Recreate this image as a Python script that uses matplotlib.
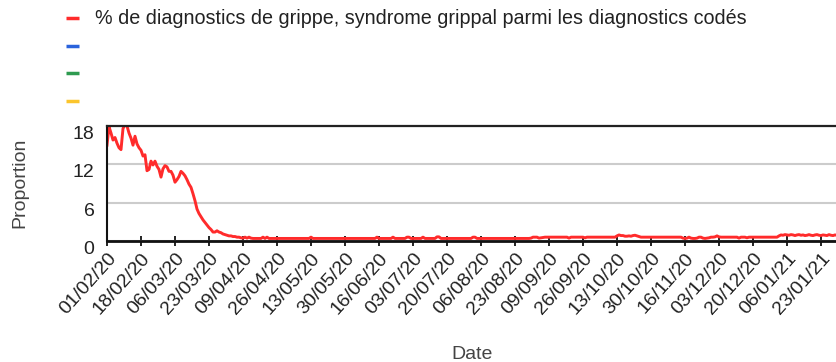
import pandas as pd
import matplotlib
matplotlib.use("Agg")
import matplotlib.pyplot as plt
import matplotlib.dates as mdates
from matplotlib.lines import Line2D

plt.rcParams["font.family"] = ["Liberation Sans", "DejaVu Sans"]

# Daily share (%) of flu / flu-like diagnoses, Feb 2020 -> Jan 2021
feb = [15.0, 17.9, 16.9, 15.8, 16.2, 15.3, 14.6, 14.3, 17.6, 18.2,
       18.0, 16.9, 16.1, 15.0, 16.4, 15.2, 14.6, 14.2, 13.3, 13.5,
       11.0, 11.2, 12.5, 11.9, 12.5, 11.7, 11.2, 10.0, 11.3]
mar = [11.8, 11.6, 10.9, 10.9, 10.3, 9.2, 9.6, 10.1, 10.9, 10.6,
       10.2, 9.6, 8.9, 8.4, 7.4, 6.3, 5.0, 4.3, 3.8, 3.3,
       2.9, 2.5, 2.1, 1.8, 1.4, 1.4, 1.6, 1.4, 1.3, 1.1,
       1.0]
apr = [0.9, 0.8, 0.8, 0.7, 0.7, 0.6, 0.6, 0.5, 0.45, 0.6,
       0.45, 0.6, 0.45, 0.4, 0.4, 0.4, 0.4, 0.4, 0.6, 0.4,
       0.6, 0.4, 0.4, 0.4, 0.4, 0.4, 0.4, 0.4, 0.4, 0.4]
may = [0.4, 0.4, 0.4, 0.4, 0.4, 0.4, 0.4, 0.4, 0.4, 0.4,
       0.4, 0.4, 0.6, 0.4, 0.4, 0.4, 0.4, 0.4, 0.4, 0.4,
       0.4, 0.4, 0.4, 0.4, 0.4, 0.4, 0.4, 0.4, 0.4, 0.4,
       0.4]
jun = [0.4, 0.4, 0.4, 0.4, 0.4, 0.4, 0.4, 0.4, 0.4, 0.4,
       0.4, 0.4, 0.4, 0.4, 0.6, 0.4, 0.4, 0.4, 0.4, 0.4,
       0.4, 0.4, 0.6, 0.4, 0.4, 0.4, 0.4, 0.4, 0.4, 0.6]
jul = [0.6, 0.4, 0.4, 0.4, 0.4, 0.4, 0.4, 0.6, 0.4, 0.4,
       0.4, 0.4, 0.4, 0.4, 0.65, 0.65, 0.4, 0.4, 0.4, 0.4,
       0.4, 0.4, 0.4, 0.4, 0.4, 0.4, 0.4, 0.4, 0.4, 0.4,
       0.4]
aug = [0.4, 0.6, 0.6, 0.4, 0.4, 0.4, 0.4, 0.4, 0.4, 0.4,
       0.4, 0.4, 0.4, 0.4, 0.4, 0.4, 0.4, 0.4, 0.4, 0.4,
       0.4, 0.4, 0.4, 0.4, 0.4, 0.4, 0.4, 0.4, 0.4, 0.4,
       0.45]
sep = [0.6, 0.6, 0.6, 0.45, 0.5, 0.55, 0.6, 0.6, 0.6, 0.6,
       0.6, 0.6, 0.6, 0.6, 0.6, 0.6, 0.6, 0.6, 0.45, 0.6,
       0.6, 0.6, 0.6, 0.6, 0.6, 0.6, 0.5, 0.6, 0.6, 0.6]
oct_ = [0.6, 0.6, 0.6, 0.6, 0.6, 0.6, 0.6, 0.6, 0.6, 0.6,
        0.6, 0.6, 0.8, 0.95, 0.85, 0.85, 0.75, 0.75, 0.8, 0.75,
        0.85, 0.9, 0.8, 0.7, 0.6, 0.6, 0.6, 0.6, 0.6, 0.6,
        0.6]
nov = [0.6, 0.6, 0.6, 0.6, 0.6, 0.6, 0.6, 0.6, 0.6, 0.6,
       0.6, 0.6, 0.6, 0.6, 0.45, 0.4, 0.45, 0.6, 0.45, 0.4,
       0.4, 0.45, 0.6, 0.6, 0.45, 0.4, 0.45, 0.5, 0.6, 0.6]
dec = [0.65, 0.8, 0.65, 0.6, 0.6, 0.6, 0.6, 0.6, 0.6, 0.6,
       0.6, 0.6, 0.45, 0.6, 0.6, 0.6, 0.5, 0.6, 0.6, 0.6,
       0.6, 0.6, 0.6, 0.6, 0.6, 0.6, 0.6, 0.6, 0.6, 0.6,
       0.6]
jan = [0.6, 0.8, 0.95, 0.9, 1.0, 0.95, 0.9, 1.0, 0.95, 0.85,
       0.95, 1.0, 0.9, 0.95, 0.85, 0.9, 1.0, 0.9, 0.85, 0.95,
       1.0, 0.9, 0.85, 0.95, 0.9, 0.85, 1.0, 0.9, 0.85, 0.95,
       0.9]
values = feb + mar + apr + may + jun + jul + aug + sep + oct_ + nov + dec + jan
dates = pd.date_range("2020-02-01", periods=len(values), freq="D")

series_labels = ["% de diagnostics de grippe, syndrome grippal parmi les diagnostics codés",
                 "", "", ""]
series_colors = ["#ff2b2b", "#2a63dc", "#2e9b50", "#fbc52c"]
y_ticks = [0, 6, 12, 18]

W, H = 837, 362
fig = plt.figure(figsize=(W / 100, H / 100), dpi=100)
ax = fig.add_axes([107 / W, 121 / H, 730 / W, 115 / H])

ax.plot(dates, values, color=series_colors[0], lw=2.1, solid_joinstyle="round")

ax.set_ylim(0, 18)
ax.set_yticks(y_ticks)
ax.set_xlim(dates[0], dates[-1])
ax.set_xticks(dates[::17])
ax.xaxis.set_major_formatter(mdates.DateFormatter("%d/%m/%y"))

ax.yaxis.grid(True, color="#cccccc", lw=1.5)
ax.set_axisbelow(True)
ax.spines["right"].set_visible(False)
ax.spines["top"].set_color("#222222")
ax.spines["top"].set_linewidth(1.6)
ax.spines["left"].set_color("#111111")
ax.spines["left"].set_linewidth(1.5)
ax.spines["bottom"].set_color("#111111")
ax.spines["bottom"].set_linewidth(2.0)

ax.tick_params(axis="x", direction="inout", length=7, width=1.3, color="#111111",
               labelsize=14, labelcolor="#222222", pad=3)
ax.tick_params(axis="y", length=0, pad=9, labelsize=14, labelcolor="#222222")
for lbl in ax.get_xticklabels():
    lbl.set_rotation(48)
    lbl.set_ha("right")
    lbl.set_rotation_mode("anchor")
for lbl in ax.get_yticklabels():
    lbl.set_va("top")

fig.text(20 / W, 1 - 183 / H, "Proportion", rotation=90, ha="center", va="center",
         fontsize=14, color="#444444")
fig.text(472 / W, 1 - 359 / H, "Date", ha="center", va="baseline",
         fontsize=14, color="#444444")

# legend rows stacked at the top left
for i, (label, color) in enumerate(zip(series_labels, series_colors)):
    y = 1 - (18 + 27.7 * i) / H
    fig.add_artist(Line2D([66 / W, 79 / W], [y, y], transform=fig.transFigure,
                          color=color, lw=2.5, solid_capstyle="butt"))
    if label:
        fig.text(95 / W, y, label, ha="left", va="center", fontsize=14.2, color="#222222")

fig.savefig("out.png", dpi=100)
